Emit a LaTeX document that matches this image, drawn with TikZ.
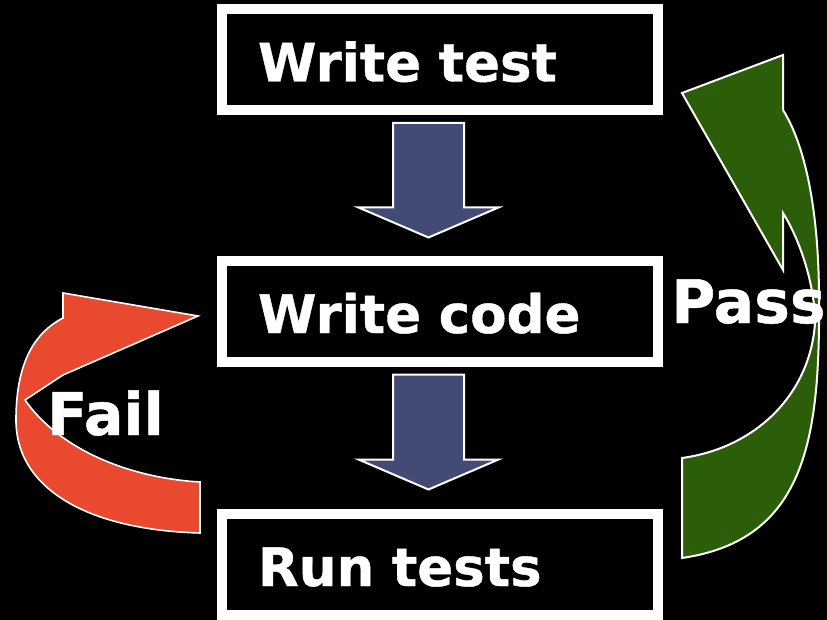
\documentclass[tikz,border=0pt]{standalone}
\usepackage{fontspec}
\setmainfont[BoldFeatures={FakeBold=0.8}]{DejaVu Sans}
\usepackage{tikz}
\usetikzlibrary{calc}

\definecolor{flowblue}{RGB}{66,74,118}
\definecolor{failred}{RGB}{233,73,47}
\definecolor{passgreen}{RGB}{44,94,10}

\tikzset{
	stepbox/.style={draw=white, line width=7.5pt, fill=black, text=white, minimum width=327pt, minimum height=75.75pt, inner xsep=27pt, inner ysep=0pt, text width=273pt, align=left, text height=33pt, text depth=0pt, font=\bfseries\fontsize{39.75}{46}\selectfont},
	blockarrow/.style={draw=white, line width=1.5pt, fill=flowblue, line join=miter},
	loopword/.style={anchor=base west, inner sep=0pt, text=white, font=\bfseries\fontsize{44}{50}\selectfont}
}

\begin{document}
\begin{tikzpicture}[x=0.75pt,y=0.75pt,yscale=-1,xscale=1]
		\useasboundingbox (0,0) rectangle (827,620);
		\fill[black] (0,0) rectangle (827,620);
		
		%Curved Arrow: Fail
		\draw [draw=white, line width=1.2pt, fill=failred] (200,482) .. controls (130,478) and (60,450) .. (25,400) -- (63,375) -- (198,316) -- (63,293) -- (63,318) .. controls (30,335) and (16,370) .. (16,420) .. controls (16,490) and (90,530) .. (200,533) -- cycle ;
		%Curved Arrow: Pass
		\draw [draw=white, line width=1.5pt, fill=passgreen] (682,93) -- (783,55) -- (783,110) .. controls (805,145) and (819,210) .. (819,300) .. controls (820,440) and (805,540) .. (682,558) -- (682,458) .. controls (755,448) and (810,395) .. (815,323) .. controls (815,285) and (800,240) .. (783,213) -- (783,270) -- cycle ;
		
		% Boxes
		\node [stepbox] (wtest) at (440,59.5) {Write test};
		\node [stepbox] (wcode) at (440,311) {Write code};
		\node [stepbox] (wrun) at (440,564) {Run tests};
		
		%Block Arrow: test -> code
		\path ($(wtest.south)+(-11.5,8)$) coordinate (t1) ($(wcode.north)+(-11.5,-18)$) coordinate (h1);
		\draw [blockarrow] ($(t1)+(-35.5,0)$) -- ($(t1)+(35.5,0)$) -- ($(h1)+(35.5,-30)$) -- ($(h1)+(70,-30)$) -- (h1) -- ($(h1)+(-70,-30)$) -- ($(h1)+(-35.5,-30)$) -- cycle ;
		%Block Arrow: code -> run
		\path ($(wcode.south)+(-11.5,8)$) coordinate (t2) ($(wrun.north)+(-11.5,-19)$) coordinate (h2);
		\draw [blockarrow] ($(t2)+(-35.5,0)$) -- ($(t2)+(35.5,0)$) -- ($(h2)+(35.5,-30)$) -- ($(h2)+(70,-30)$) -- (h2) -- ($(h2)+(-70,-30)$) -- ($(h2)+(-35.5,-30)$) -- cycle ;
		
		% Text Node
		\node [loopword] (fail) at (47,435) {Fail};
		% Text Node
		\node [loopword, font=\bfseries\fontsize{45}{50}\selectfont] (pass) at (671,323) {Pass};
\end{tikzpicture}
\end{document}
